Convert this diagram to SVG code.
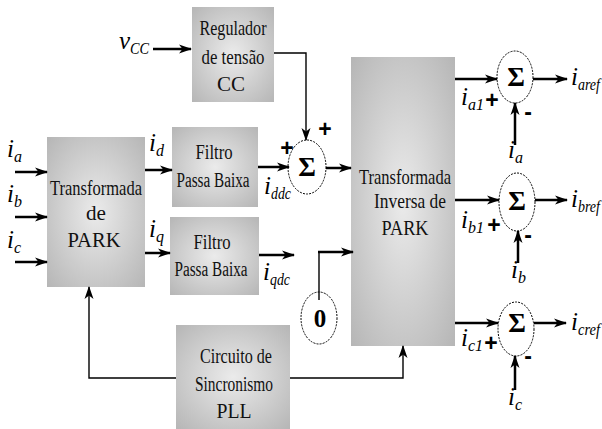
<svg xmlns="http://www.w3.org/2000/svg" width="602" height="429" viewBox="0 0 602 429">
<style>
.box{fill:url(#g);stroke:none}
.bt{font-family:"Liberation Serif",serif;font-size:21px;text-anchor:middle;fill:#111}
.pb{font-size:20px}
.m{font-family:"Liberation Serif",serif;font-style:italic;font-size:25px;fill:#000}
.s{font-size:16px}
.sig{font-family:"Liberation Serif",serif;font-weight:bold;font-size:27px;text-anchor:middle}
.pm{font-family:"Liberation Sans",sans-serif;font-weight:bold;font-size:23px;text-anchor:middle}
.el{fill:none;stroke:#000;stroke-width:1;stroke-dasharray:2,1.2}
.a{fill:none;stroke:#000;stroke-width:2.5;marker-end:url(#ah)}
.t{fill:none;stroke:#000;stroke-width:1.4}
.ta{fill:none;stroke:#000;stroke-width:1.4;marker-end:url(#ah)}
</style>
<defs>
<radialGradient id="g" cx="0.5" cy="0.5" r="0.7">
<stop offset="0" stop-color="#ebebeb"/>
<stop offset="1" stop-color="#b6b6b6"/>
</radialGradient>
<marker id="ah" markerUnits="userSpaceOnUse" markerWidth="14" markerHeight="10" refX="12" refY="5" orient="auto">
<path d="M0,0.5 L13,5 L0,9.5 L3.5,5 Z" fill="#000"/>
</marker>
</defs>
<rect width="602" height="429" fill="#fff"/>

<g id="regulador">
<rect class="box" x="192" y="7" width="82" height="95"/>
<text class="bt" x="233" y="35" textLength="67" lengthAdjust="spacingAndGlyphs">Regulador</text>
<text class="bt" x="233" y="64" textLength="63" lengthAdjust="spacingAndGlyphs">de tensão</text>
<text class="bt" x="231" y="91" textLength="28" lengthAdjust="spacingAndGlyphs">CC</text>
</g>

<g id="park">
<rect class="box" x="47" y="137" width="98" height="150"/>
<text class="bt" x="96" y="195" textLength="92" lengthAdjust="spacingAndGlyphs">Transformada</text>
<text class="bt" x="96" y="220" textLength="20" lengthAdjust="spacingAndGlyphs">de</text>
<text class="bt" x="94" y="247" textLength="53" lengthAdjust="spacingAndGlyphs">PARK</text>
</g>

<g id="filtro1">
<rect class="box" x="172" y="127" width="86" height="80"/>
<text class="bt" x="214" y="159" textLength="37" lengthAdjust="spacingAndGlyphs">Filtro</text>
<text class="bt pb" x="213" y="187" textLength="73" lengthAdjust="spacingAndGlyphs">Passa Baixa</text>
</g>

<g id="filtro2">
<rect class="box" x="170" y="217" width="89" height="78"/>
<text class="bt" x="212" y="249" textLength="37" lengthAdjust="spacingAndGlyphs">Filtro</text>
<text class="bt pb" x="211" y="276" textLength="73" lengthAdjust="spacingAndGlyphs">Passa Baixa</text>
</g>

<g id="inversa">
<rect class="box" x="351" y="57" width="104" height="289"/>
<text class="bt" x="405" y="184" textLength="92" lengthAdjust="spacingAndGlyphs">Transformada</text>
<text class="bt" x="410" y="208" textLength="72" lengthAdjust="spacingAndGlyphs">Inversa de</text>
<text class="bt" x="405" y="235" textLength="47" lengthAdjust="spacingAndGlyphs">PARK</text>
</g>

<g id="pll">
<rect class="box" x="176" y="325" width="114" height="104"/>
<text class="bt" x="236" y="363" textLength="72" lengthAdjust="spacingAndGlyphs">Circuito de</text>
<text class="bt" x="234" y="391" textLength="78" lengthAdjust="spacingAndGlyphs">Sincronismo</text>
<text class="bt" x="234" y="418" textLength="35" lengthAdjust="spacingAndGlyphs">PLL</text>
</g>

<g id="soma1">
<ellipse class="el" cx="307" cy="167" rx="19" ry="27"/>
<text class="sig" x="307" y="176">Σ</text>
</g>

<g id="zero">
<ellipse class="el" cx="319" cy="318" rx="18" ry="26"/>
<text class="sig" x="320" y="327" style="font-size:25px">0</text>
</g>

<g id="somaA">
<ellipse class="el" cx="515" cy="77" rx="18" ry="26"/>
<text class="sig" x="516" y="86">Σ</text>
</g>

<g id="somaB">
<ellipse class="el" cx="517" cy="202" rx="18" ry="29"/>
<text class="sig" x="517" y="210">Σ</text>
</g>

<g id="somaC">
<ellipse class="el" cx="516" cy="329" rx="18" ry="27"/>
<text class="sig" x="517" y="332">Σ</text>
</g>

<g id="connectors">
<line class="a" x1="153" y1="49" x2="191" y2="49"/>
<polyline class="ta" points="274,53 306,53 306,140"/>
<line class="a" x1="15" y1="172" x2="47" y2="172"/>
<line class="a" x1="15" y1="217" x2="47" y2="217"/>
<line class="a" x1="15" y1="262" x2="47" y2="262"/>
<line class="a" x1="145" y1="170" x2="172" y2="170"/>
<line class="a" x1="145" y1="253" x2="170" y2="253"/>
<line class="a" x1="258" y1="167" x2="289" y2="167"/>
<line class="a" x1="259" y1="255" x2="294" y2="255"/>
<line class="a" x1="326" y1="168" x2="351" y2="168"/>
<polyline class="t" points="319,300 319,252 340,252"/>
<line class="a" x1="318" y1="252" x2="353" y2="252"/>
<polyline class="ta" points="176,378 89,378 89,287"/>
<polyline class="ta" points="290,378 403,378 403,346"/>
<line class="a" x1="455" y1="79" x2="497" y2="79"/>
<line class="a" x1="455" y1="200" x2="499" y2="200"/>
<line class="a" x1="455" y1="323" x2="498" y2="323"/>
<line class="a" x1="533" y1="79" x2="567" y2="79"/>
<line class="a" x1="535" y1="200" x2="567" y2="200"/>
<line class="a" x1="534" y1="323" x2="566" y2="323"/>
<line class="a" x1="515" y1="145" x2="515" y2="103"/>
<line class="a" x1="518" y1="263" x2="518" y2="231"/>
<line class="a" x1="515" y1="390" x2="515" y2="356"/>
</g>

<g id="labels">
<text class="m" x="119" y="49">v<tspan class="s" dy="5" textLength="19" lengthAdjust="spacingAndGlyphs">CC</tspan></text>
<text class="m" x="7" y="157">i<tspan class="s" dy="5">a</tspan></text>
<text class="m" x="7" y="202">i<tspan class="s" dy="5">b</tspan></text>
<text class="m" x="7" y="248">i<tspan class="s" dy="5">c</tspan></text>
<text class="m" x="149" y="151">i<tspan class="s" dy="5">d</tspan></text>
<text class="m" x="149" y="237">i<tspan class="s" dy="5">q</tspan></text>
<text class="m" x="264" y="194">i<tspan class="s" dy="5" textLength="20" lengthAdjust="spacingAndGlyphs">ddc</tspan></text>
<text class="m" x="263" y="280">i<tspan class="s" dy="5" textLength="20" lengthAdjust="spacingAndGlyphs">qdc</tspan></text>
<text class="m" x="461" y="105">i<tspan class="s" dy="5">a1</tspan></text>
<text class="m" x="461" y="228">i<tspan class="s" dy="5">b1</tspan></text>
<text class="m" x="461" y="346">i<tspan class="s" dy="5">c1</tspan></text>
<text class="m" x="571" y="85">i<tspan class="s" dy="5" textLength="22" lengthAdjust="spacingAndGlyphs">aref</tspan></text>
<text class="m" x="571" y="207">i<tspan class="s" dy="5" textLength="22" lengthAdjust="spacingAndGlyphs">bref</tspan></text>
<text class="m" x="571" y="330">i<tspan class="s" dy="5" textLength="22" lengthAdjust="spacingAndGlyphs">cref</tspan></text>
<text class="m" x="508" y="158">i<tspan class="s" dy="5">a</tspan></text>
<text class="m" x="511" y="278">i<tspan class="s" dy="5">b</tspan></text>
<text class="m" x="508" y="405">i<tspan class="s" dy="5">c</tspan></text>
<text class="pm" x="287" y="156">+</text>
<text class="pm" x="325" y="137">+</text>
<text class="pm" x="492" y="108">+</text>
<text class="pm" x="528" y="120">-</text>
<text class="pm" x="494" y="233">+</text>
<text class="pm" x="528" y="243">-</text>
<text class="pm" x="491" y="351">+</text>
<text class="pm" x="528" y="364">-</text>
</g>
</svg>
